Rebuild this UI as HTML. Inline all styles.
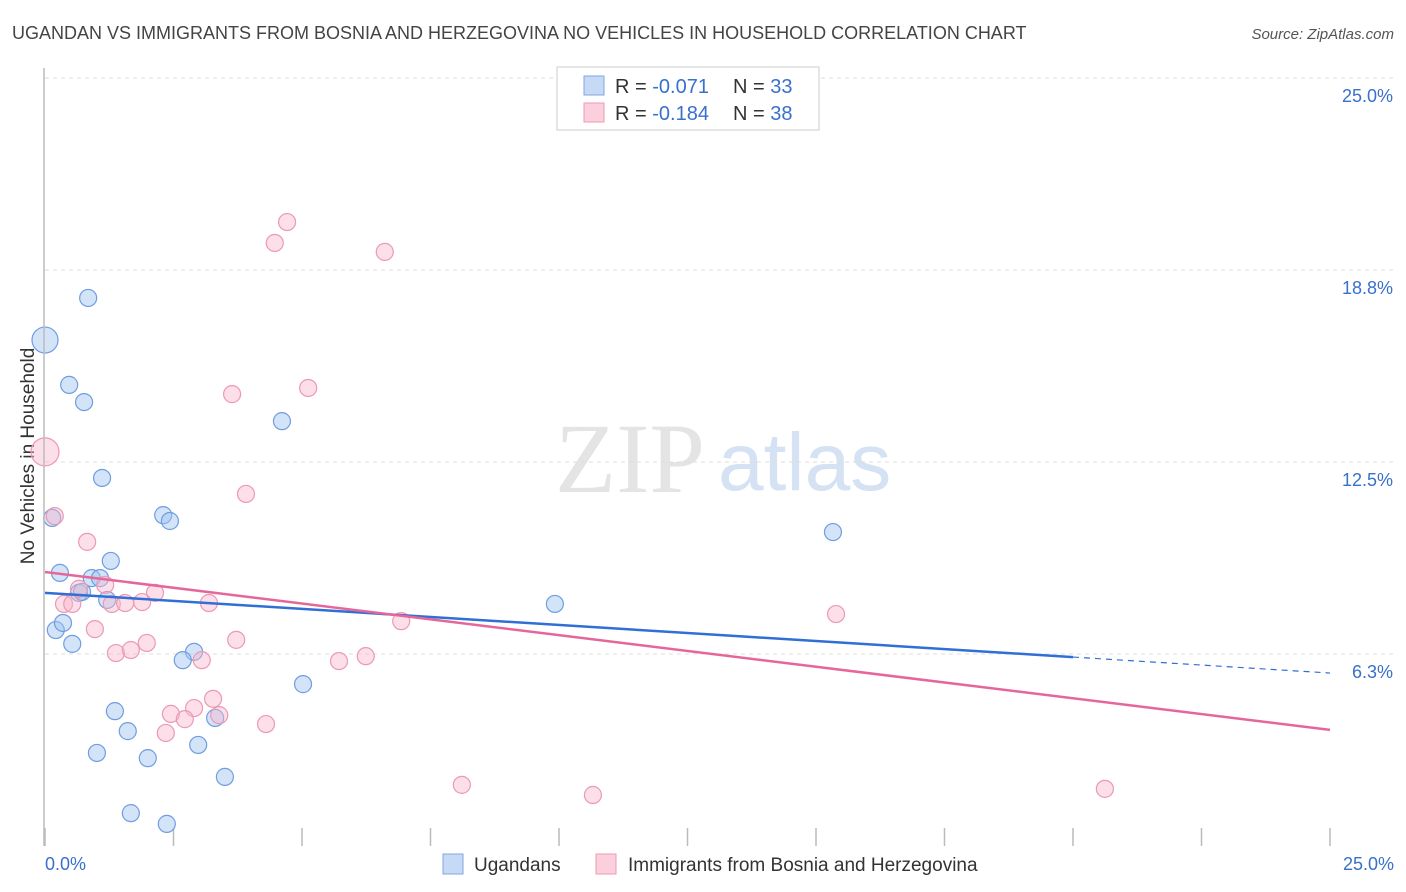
<!DOCTYPE html>
<html><head><meta charset="utf-8"><style>
body{margin:0;background:#fff;font-family:"Liberation Sans",sans-serif;}
svg{display:block}
</style></head><body>
<svg id="c" width="1406" height="892">
<text x="12" y="39" font-size="18" fill="#444">UGANDAN VS IMMIGRANTS FROM BOSNIA AND HERZEGOVINA NO VEHICLES IN HOUSEHOLD CORRELATION CHART</text>
<text x="1394" y="39" font-size="15" fill="#555" font-style="italic" text-anchor="end">Source: ZipAtlas.com</text>
<text x="34" y="456" font-size="19" fill="#333" text-anchor="middle" transform="rotate(-90 34 456)">No Vehicles in Household</text>
<text x="555" y="492" font-size="100" fill="#e4e4e4" font-family="Liberation Serif,serif">ZIP</text>
<text x="718" y="490" font-size="82" fill="#d5e2f3">atlas</text>
<g id="grid"></g><g id="ticks"></g><g id="pts"></g><g id="lines"></g>
<line x1="44" y1="68" x2="44" y2="846" stroke="#bbb" stroke-width="1.5"/>
<g>
<rect x="557" y="67" width="262" height="63" fill="#fff" stroke="#ccc"/>
<rect x="584" y="76" width="20" height="19" fill="#c6daf5" stroke="#7fa7e3"/>
<rect x="584" y="103" width="20" height="19" fill="#fbd0dc" stroke="#ee9ab4"/>
<text x="615" y="93" font-size="20" fill="#333">R = <tspan fill="#3870cc">-0.071</tspan></text>
<text x="733" y="93" font-size="20" fill="#333">N = <tspan fill="#3870cc">33</tspan></text>
<text x="615" y="120" font-size="20" fill="#333">R = <tspan fill="#3870cc">-0.184</tspan></text>
<text x="733" y="120" font-size="20" fill="#333">N = <tspan fill="#3870cc">38</tspan></text>
</g>
<g>
<rect x="443" y="854" width="20" height="20" fill="#c6daf5" stroke="#7fa7e3"/>
<text x="474" y="871" font-size="19" fill="#333">Ugandans</text>
<rect x="596" y="854" width="20" height="20" fill="#fbd0dc" stroke="#ee9ab4"/>
<text x="628" y="871" font-size="19" fill="#333">Immigrants from Bosnia and Herzegovina</text>
</g>
<text x="45" y="870" font-size="18" fill="#3870cc">0.0%</text>
<text x="1394" y="870" font-size="18" fill="#3870cc" text-anchor="end">25.0%</text>
</svg>
<script>
const yTicks=[25,18.75,12.5,6.25];
const yTickLabels=["25.0%","18.8%","12.5%","6.3%"];
const xTicks=[0,2.5,5,7.5,10,12.5,15,17.5,20,22.5,25];
const blueX=[0,0.84,0.47,0.76,1.11,0.14,2.30,2.43,4.61,1.28,0.29,0.91,1.07,0.66,1.21,0.21,0.35,0.53,9.92,15.33,2.90,2.68,5.02,1.36,1.61,3.31,2.98,1.01,2.00,3.50,1.67,2.37,0.72];
const blueY=[16.47,17.84,15.01,14.45,11.98,10.68,10.77,10.58,13.83,9.28,8.89,8.72,8.72,8.24,8.01,7.03,7.26,6.58,7.88,10.22,6.32,6.05,5.27,4.39,3.74,4.17,3.29,3.03,2.86,2.25,1.07,0.72,8.27];
const pinkX=[0,4.71,4.47,6.61,5.12,3.64,3.91,0.19,0.82,1.17,0.66,2.14,0.37,0.53,1.30,1.56,1.89,3.19,6.93,15.39,0.97,1.98,3.72,1.38,1.67,3.05,6.24,5.72,3.27,2.45,2.90,3.39,2.72,2.35,4.30,8.11,10.66,20.62];
const pinkY=[12.83,20.31,19.63,19.34,14.91,14.71,11.46,10.74,9.90,8.50,8.37,8.24,7.88,7.88,7.88,7.91,7.94,7.91,7.32,7.55,7.06,6.61,6.71,6.28,6.38,6.05,6.18,6.02,4.79,4.30,4.49,4.26,4.13,3.68,3.97,1.99,1.66,1.86];
const blueTrend=[8.24,6.15,5.63];
const pinkTrend=[8.92,3.78];
const X=v=>45+v*1285/25, Y=v=>846-v*192/6.25;
const NS="http://www.w3.org/2000/svg";
function mk(t,a,p){const e=document.createElementNS(NS,t);for(const k in a)e.setAttribute(k,a[k]);document.getElementById(p).appendChild(e);return e;}
yTicks.forEach((t,i)=>{
 const l=mk('line',{x1:45,x2:1394,y1:Y(t),y2:Y(t),stroke:'#ddd','stroke-dasharray':'4,4'},'grid');
 
 
 const tx=mk('text',{x:1393,y:Y(t)+24,'font-size':18,fill:'#3870cc','text-anchor':'end'},'grid');
 tx.textContent=yTickLabels[i];
 
 
});
xTicks.forEach(t=>{
 const l=mk('line',{x1:X(t),x2:X(t),y1:828,y2:846,stroke:'#bbb','stroke-width':1.5},'ticks');
 
 
});
blueX.forEach((x,i)=>{
 const c=mk('circle',{cx:X(x),cy:Y(blueY[i]),r:i==0?13:8.5,fill:'rgba(160,195,240,0.45)',stroke:'#6f9de0','stroke-width':1.2},'pts');
 
 
});
pinkX.forEach((x,i)=>{
 const c=mk('circle',{cx:X(x),cy:Y(pinkY[i]),r:i==0?14:8.5,fill:'rgba(248,185,205,0.45)',stroke:'#ec99b3','stroke-width':1.2},'pts');
 
 
});
let l1=mk('line',{x1:X(0),y1:Y(blueTrend[0]),x2:X(20),y2:Y(blueTrend[1]),stroke:'#2f6fd6','stroke-width':2.5},'lines');


let l2=mk('line',{x1:X(20),y1:Y(blueTrend[1]),x2:X(25),y2:Y(blueTrend[2]),stroke:'#2f6fd6','stroke-width':1.2,'stroke-dasharray':'6,5'},'lines');


let l3=mk('line',{x1:X(0),y1:Y(pinkTrend[0]),x2:X(25),y2:Y(pinkTrend[1]),stroke:'#e5679a','stroke-width':2.5},'lines');


</script>
</body></html>
